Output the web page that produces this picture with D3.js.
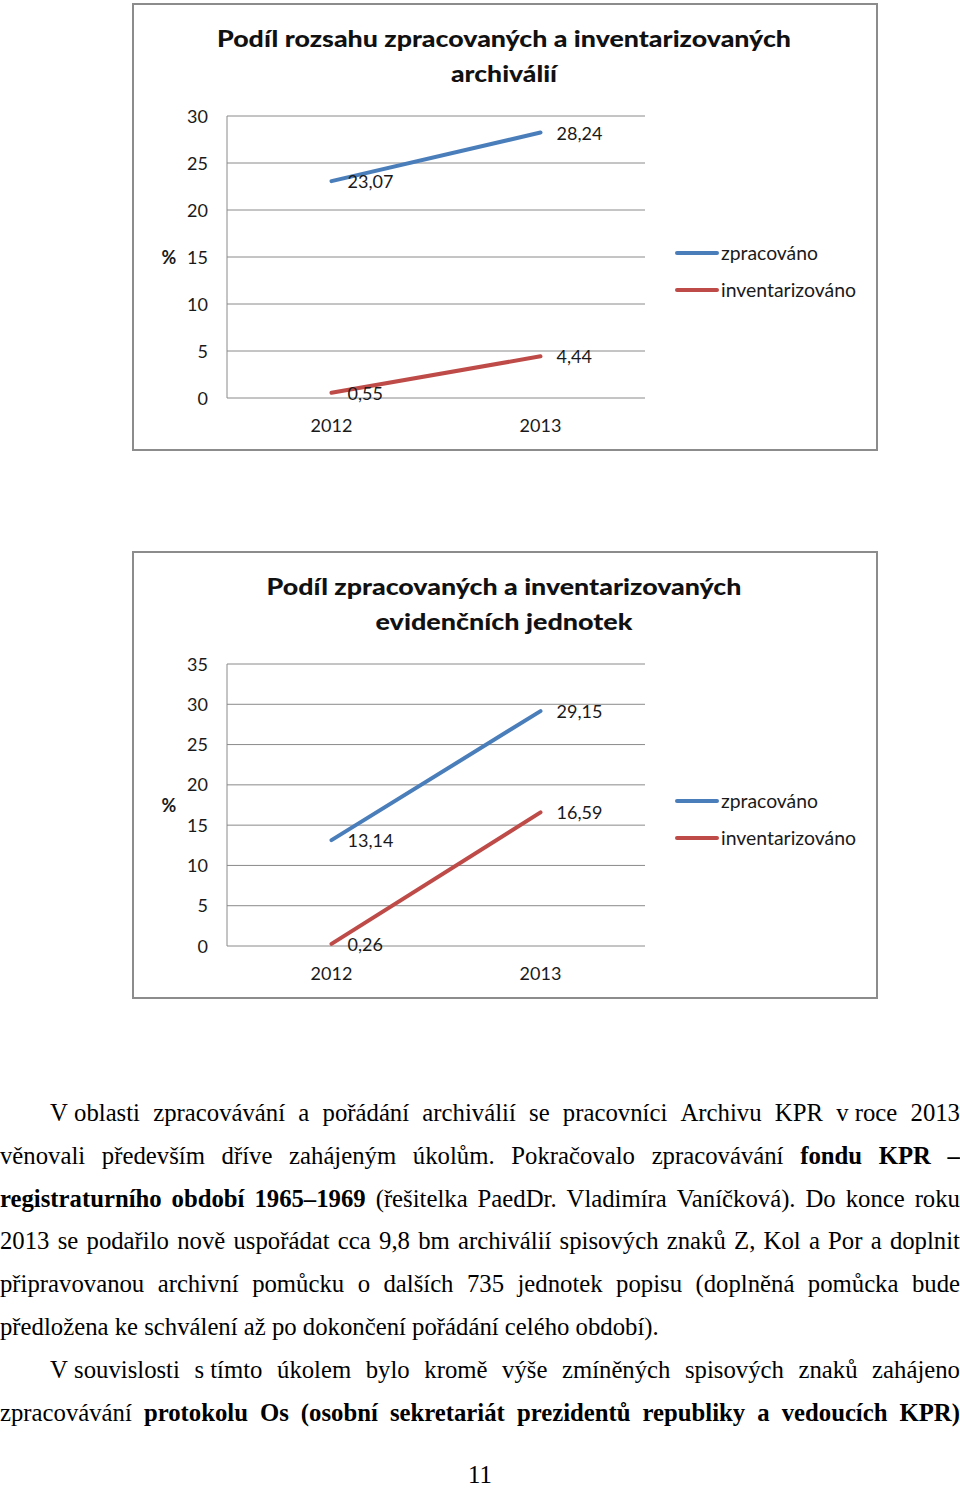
<!DOCTYPE html>
<html>
<head>
<meta charset="utf-8">
<script src="https://cdn.jsdelivr.net/npm/d3@7"></script>
<style>
  html, body { margin: 0; padding: 0; background: #ffffff; }
  svg { display: block; }
</style>
</head>
<body>
<script>
// ---------------- DATA ----------------
const years = ["2012", "2013"];
const seriesNames = ["zpracováno", "inventarizováno"];

const chart1Title = ["Podíl rozsahu zpracovaných a inventarizovaných", "archiválií"];
const chart1Zpracovano = [23.07, 28.24];
const chart1Inventarizovano = [0.55, 4.44];
const chart1Ticks = [0, 5, 10, 15, 20, 25, 30];

const chart2Title = ["Podíl zpracovaných a inventarizovaných", "evidenčních jednotek"];
const chart2Zpracovano = [13.14, 29.15];
const chart2Inventarizovano = [0.26, 16.59];
const chart2Ticks = [0, 5, 10, 15, 20, 25, 30, 35];

const axisUnit = "%";

// body text: "_" = non-breaking space; segments {t, b(bold)}
const bodyLines = [
  { indent: true, justify: true, segs: [{ t: "V_oblasti zpracovávání a pořádání archiválií se pracovníci Archivu KPR v_roce 2013", b: false }] },
  { indent: false, justify: true, segs: [{ t: "věnovali především dříve zahájeným úkolům. Pokračovalo zpracovávání", b: false }, { t: "fondu KPR –", b: true }] },
  { indent: false, justify: true, segs: [{ t: "registraturního období 1965–1969", b: true }, { t: "(řešitelka PaedDr. Vladimíra Vaníčková). Do konce roku", b: false }] },
  { indent: false, justify: true, segs: [{ t: "2013 se podařilo nově uspořádat cca 9,8 bm archiválií spisových znaků Z, Kol a Por a doplnit", b: false }] },
  { indent: false, justify: true, segs: [{ t: "připravovanou archivní pomůcku o dalších 735 jednotek popisu (doplněná pomůcka bude", b: false }] },
  { indent: false, justify: false, segs: [{ t: "předložena ke schválení až po dokončení pořádání celého období).", b: false }] },
  { indent: true, justify: true, segs: [{ t: "V_souvislosti s_tímto úkolem bylo kromě výše zmíněných spisových znaků zahájeno", b: false }] },
  { indent: false, justify: true, segs: [{ t: "zpracovávání", b: false }, { t: "protokolu Os (osobní sekretariát prezidentů republiky a vedoucích KPR)", b: true }] }
];
const pageNumber = "11";

// ---------------- STYLE ----------------
const sans = "Lato, 'Open Sans', 'DejaVu Sans', sans-serif";
const serif = "'Liberation Serif', 'DejaVu Serif', serif";
const blue = "#4A7EBB";
const red = "#BE4B48";
const gridColor = "#8a8a8a";

const svg = d3.select("body").append("svg")
  .attr("width", 960).attr("height", 1488)
  .attr("viewBox", "0 0 960 1488");

function drawChart(y0, titleLines, titleWidths, zpr, inv, ticks) {
  const g = svg.append("g").attr("transform", `translate(0,${y0})`);

  // frame
  g.append("rect")
    .attr("x", 133).attr("y", 0).attr("width", 744).attr("height", 446)
    .attr("fill", "#ffffff").attr("stroke", "#8c8c8c").attr("stroke-width", 2);

  // title
  titleLines.forEach((t, i) => {
    g.append("text")
      .attr("x", 504).attr("y", 43 + i * 35)
      .attr("text-anchor", "middle")
      .attr("font-family", sans).attr("font-weight", 900).attr("font-size", 23)
      .attr("fill", "#111")
      .attr("textLength", titleWidths[i]).attr("lengthAdjust", "spacingAndGlyphs")
      .text(t);
  });

  const left = 227, right = 645, top = 112, bottom = 394;
  const x = d3.scalePoint().domain(years).range([left, right]).padding(0.5);
  const y = d3.scaleLinear().domain([0, d3.max(ticks)]).range([bottom, top]);

  // gridlines
  g.append("g").selectAll("line").data(ticks).join("line")
    .attr("x1", left).attr("x2", right)
    .attr("y1", d => y(d)).attr("y2", d => y(d))
    .attr("stroke", gridColor).attr("stroke-width", 1);

  // y axis line
  g.append("line")
    .attr("x1", left).attr("x2", left).attr("y1", y(d3.max(ticks))).attr("y2", bottom)
    .attr("stroke", gridColor).attr("stroke-width", 1);

  // y tick labels
  g.append("g").selectAll("text").data(ticks).join("text")
    .attr("x", 208).attr("y", d => y(d) + 6.5)
    .attr("text-anchor", "end")
    .attr("font-family", sans).attr("font-size", 18).attr("fill", "#1a1a1a")
    .text(d => d);

  // x labels
  g.append("g").selectAll("text").data(years).join("text")
    .attr("x", d => x(d)).attr("y", bottom + 34)
    .attr("text-anchor", "middle")
    .attr("font-family", sans).attr("font-size", 18).attr("fill", "#1a1a1a")
    .text(d => d);

  // % unit
  g.append("text")
    .attr("x", 169).attr("y", (top + bottom) / 2 + 7)
    .attr("text-anchor", "middle")
    .attr("font-family", sans).attr("font-weight", "bold").attr("font-size", 18).attr("fill", "#1a1a1a")
    .text(axisUnit);

  const line = d3.line().x((d, i) => x(years[i])).y(d => y(d));
  const series = [
    { name: seriesNames[0], values: zpr, color: blue, w: 97 },
    { name: seriesNames[1], values: inv, color: red, w: 135 }
  ];

  series.forEach(s => {
    g.append("path")
      .datum(s.values)
      .attr("d", line)
      .attr("fill", "none").attr("stroke", s.color)
      .attr("stroke-width", 4).attr("stroke-linecap", "round");
  });

  // data labels
  series.forEach(s => {
    g.append("g").selectAll("text").data(s.values).join("text")
      .attr("x", (d, i) => x(years[i]) + 16)
      .attr("y", (d, i) => y(d) + 7)
      .attr("font-family", sans).attr("font-size", 18).attr("fill", "#1a1a1a")
      .text(d => d3.format(".2f")(d).replace(".", ","));
  });

  // legend
  const lg = g.append("g").selectAll("g").data(series).join("g")
    .attr("transform", (d, i) => `translate(0,${249 + i * 37})`);
  lg.append("line")
    .attr("x1", 677).attr("x2", 717).attr("y1", 0).attr("y2", 0)
    .attr("stroke", d => d.color).attr("stroke-width", 4).attr("stroke-linecap", "round");
  lg.append("text")
    .attr("x", 721).attr("y", 6.5)
    .attr("font-family", sans).attr("font-size", 19).attr("fill", "#1a1a1a")
    .attr("textLength", d => d.w).attr("lengthAdjust", "spacingAndGlyphs")
    .text(d => d.name);
}

drawChart(4, chart1Title, [574, 106], chart1Zpracovano, chart1Inventarizovano, chart1Ticks);
drawChart(552, chart2Title, [475, 257], chart2Zpracovano, chart2Inventarizovano, chart2Ticks);

// ---------------- BODY TEXT ----------------
const fontSize = 25;
const bodyG = svg.append("g");
const lastLine = bodyLines.find(l => !l.justify);
const probe = bodyG.append("text").attr("font-family", serif).attr("font-size", fontSize)
  .text(lastLine.segs.map(s => s.t).join(" ").replace(/_/g, "\u00a0"));
const naturalW = probe.node().getComputedTextLength();
const spaceProbe = bodyG.append("text").attr("font-family", serif).attr("font-size", fontSize).text("a\u00a0a");
const spaceProbe2 = bodyG.append("text").attr("font-family", serif).attr("font-size", fontSize).text("aa");
const spaceW = spaceProbe.node().getComputedTextLength() - spaceProbe2.node().getComputedTextLength();
probe.remove(); spaceProbe.remove(); spaceProbe2.remove();
const sx = 659 / naturalW;
bodyG.attr("transform", `scale(${sx},1)`);

bodyLines.forEach((ln, i) => {
  const yy = 1121 + i * 42.8;
  const startX = (ln.indent ? 50 : 0) / sx;
  const endX = 960 / sx;
  const tokens = [];
  ln.segs.forEach(seg => seg.t.split(" ").filter(Boolean)
    .forEach(w => tokens.push({ w: w.replace(/_/g, "\u00a0"), b: seg.b })));
  const txt = bodyG.append("text").attr("y", yy)
    .attr("font-family", serif).attr("font-size", fontSize).attr("fill", "#000");
  const spans = txt.selectAll("tspan").data(tokens).join("tspan")
    .attr("font-weight", d => d.b ? "bold" : "normal")
    .text(d => d.w);
  const widths = spans.nodes().map(n => n.getComputedTextLength());
  const total = d3.sum(widths);
  const gap = ln.justify ? (endX - startX - total) / (tokens.length - 1) : spaceW;
  const xs = [];
  let cx = startX;
  widths.forEach(w => { xs.push(cx); cx += w + gap; });
  spans.attr("x", (d, j) => xs[j]);
});

svg.append("text")
  .attr("x", 480).attr("y", 1483)
  .attr("text-anchor", "middle")
  .attr("font-family", serif).attr("font-size", fontSize).attr("transform", `translate(${480 - 480 * sx},0) scale(${sx},1)`)
  .attr("fill", "#000")
  .text(pageNumber);
</script>
</body>
</html>
